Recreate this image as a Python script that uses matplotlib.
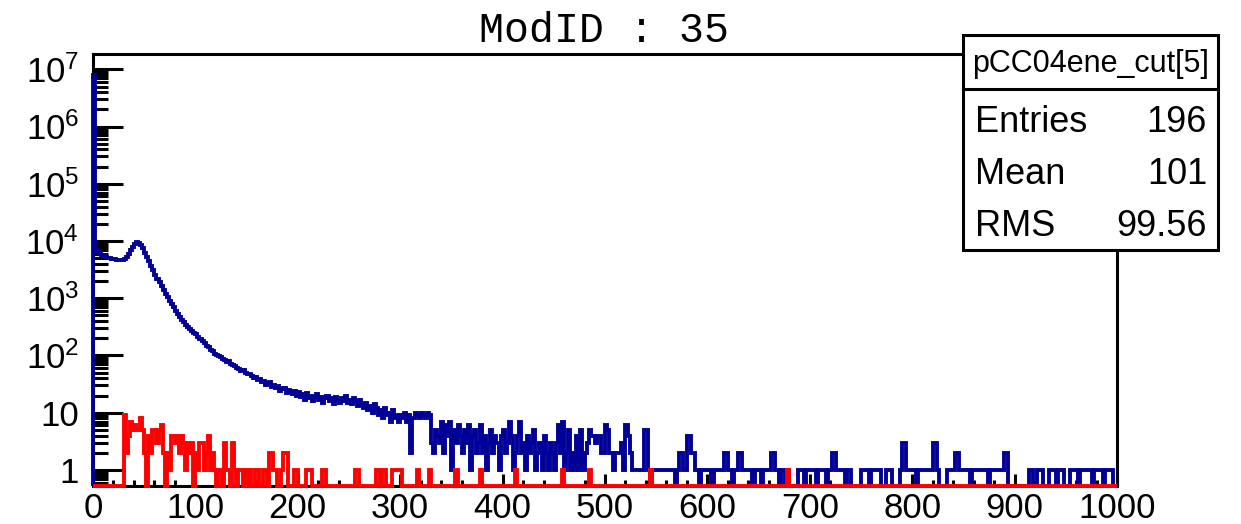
import numpy as np
import matplotlib
matplotlib.use("Agg")
from matplotlib import pyplot as plt
from matplotlib.patches import Rectangle
from matplotlib.lines import Line2D
from matplotlib.ticker import FixedLocator, FixedFormatter, LogLocator, MultipleLocator, NullFormatter

plt.rcParams["font.family"] = ["Liberation Sans", "DejaVu Sans"]
plt.rcParams["mathtext.default"] = "regular"

# histogram binning: 500 bins of width 2 over 0..1000
bin_width = 2
x_lo, x_hi = 0, 1000

# blue histogram (all entries), counts per bin
blue_0_120 = [
    8000000, 7000, 6500, 6100, 5800, 5500, 5300, 5100, 5000, 4900,
    4800, 4700, 4650, 4600, 4650, 4800, 5200, 5900, 6900, 8000,
    9000, 9500, 9300, 8600, 7500, 6300, 5200, 4400, 3700, 3100,
    2600, 2200, 1900, 1650, 1400, 1200, 1050, 900, 790, 690,
    600, 525, 478, 415, 385, 335, 315, 285, 272, 246,
    233, 212, 198, 176, 168, 147, 142, 127, 122, 108,
]
blue_120_200 = [
    104, 97, 93, 88, 84, 77, 79, 71, 69, 66,
    61, 59, 54, 56, 49, 47, 48, 43, 41, 42,
    37, 39, 34, 36, 31, 33, 35, 28, 30, 27,
    29, 24, 26, 27, 22, 25, 23, 21, 24, 20,
]
blue_200_300 = [
    23, 19, 21, 17, 22, 18, 20, 16, 19, 21,
    17, 19, 15, 18, 20, 16, 18, 14, 19, 17,
    15, 18, 16, 20, 15, 17, 14, 18, 16, 13,
    17, 14, 12, 15, 11, 13, 10, 14, 12, 9,
    11, 8, 12, 9, 10, 7, 11, 8, 9, 7,
]
blue_300_400 = [
    9, 8, 10, 7, 9, 2, 8, 10, 9, 8,
    10, 9, 8, 10, 9, 3, 2, 5, 4, 3,
    7, 2, 6, 4, 7, 1, 5, 3, 6, 4,
    2, 5, 3, 6, 1, 4, 5, 2, 3, 6,
    2, 4, 1, 3, 5, 2, 4, 3, 1, 4,
]
blue_400_500 = [
    5, 2, 3, 7, 4, 1, 2, 4, 7, 2,
    3, 1, 4, 2, 3, 5, 1, 2, 3, 1,
    4, 2, 1, 3, 2, 1, 3, 6, 2, 7,
    1, 2, 5, 1, 2, 1, 4, 1, 5, 1,
    2, 3, 5, 4, 4, 3, 4, 4, 2, 2,
]
blue_500_600 = [
    6, 5, 2, 2, 1, 2, 2, 2, 3, 1,
    6, 4, 2, 1, 1, 1, 1, 1, 1, 5,
    5, 1, 0, 1, 1, 1, 1, 1, 1, 1,
    1, 1, 1, 1, 0, 1, 2, 2, 1, 1,
    4, 4, 2, 2, 1, 1, 0, 1, 1, 1,
]
blue_600_700 = [
    1, 1, 0, 1, 1, 1, 1, 1, 2, 2,
    1, 1, 0, 1, 1, 2, 2, 1, 1, 1,
    1, 1, 0, 1, 1, 1, 0, 1, 1, 1,
    1, 2, 2, 1, 1, 0, 1, 1, 0, 1,
    0, 0, 0, 0, 1, 1, 1, 0, 1, 1,
]
blue_700_800 = [
    1, 1, 1, 0, 1, 1, 1, 1, 0, 1,
    1, 2, 2, 1, 1, 1, 1, 0, 1, 1,
    0, 0, 0, 0, 0, 1, 1, 1, 1, 0,
    1, 1, 1, 1, 1, 0, 0, 1, 1, 1,
    0, 0, 0, 0, 1, 3, 3, 1, 1, 1,
]
blue_800_900 = [
    1, 1, 0, 1, 1, 1, 1, 1, 1, 1,
    3, 3, 1, 0, 0, 0, 0, 1, 1, 1,
    1, 2, 2, 1, 1, 1, 1, 1, 0, 1,
    1, 1, 1, 1, 1, 1, 1, 0, 1, 1,
    1, 1, 1, 1, 1, 2, 2, 0, 0, 0,
]
blue_900_1000 = [
    0, 0, 0, 0, 0, 0, 0, 1, 1, 0,
    0, 1, 1, 1, 0, 0, 0, 1, 1, 1,
    0, 1, 1, 1, 0, 0, 0, 1, 1, 1,
    1, 0, 1, 1, 1, 1, 1, 1, 0, 1,
    1, 1, 1, 0, 1, 1, 1, 1, 0, 0,
]

# red histogram (pCC04ene_cut[5]): lower bin edges and counts of filled bins
red_bin_lo = [
    30, 32, 34, 36, 38, 40, 42, 44, 46, 48, 50, 54, 56, 58, 60, 62, 64, 66, 68,
    72, 74, 76, 78, 80, 82, 84, 86, 88, 90, 92, 94, 96, 100, 102, 104, 106, 108,
    110, 112, 114, 116, 118, 122, 124, 128, 130, 132, 136, 138, 142, 144, 148,
    152, 158, 160, 166, 168, 172, 174, 176, 178, 184, 186, 188, 196, 198,
    208, 210, 212, 224, 226, 256, 258, 276, 278, 282, 284, 292, 294, 296, 298,
    300, 316, 328, 354, 378, 412, 458, 484, 544, 678,
]
red_counts = [
    9, 2, 4, 7, 5, 6, 5, 5, 8, 5, 2, 4, 2, 5, 5, 3, 5, 6, 2,
    2, 1, 4, 4, 3, 4, 2, 4, 3, 1, 3, 2, 3, 2, 1, 3, 3, 1,
    2, 4, 1, 2, 1, 1, 1, 3, 1, 1, 3, 1, 1, 1, 1,
    1, 1, 1, 1, 1, 2, 2, 1, 1, 1, 2, 2, 1, 1,
    1, 1, 1, 1, 1, 1, 1, 1, 1, 1, 1, 1, 1, 1, 1,
    1, 1, 1, 1, 1, 1, 1, 1, 1, 1,
]

title_text = "ModID : 35"
stats_name = "pCC04ene_cut[5]"
stats_rows = [("Entries", "196"), ("Mean", "101"), ("RMS", "99.56")]

x_ticks = [0, 100, 200, 300, 400, 500, 600, 700, 800, 900, 1000]
y_ticks = [1, 10, 1e2, 1e3, 1e4, 1e5, 1e6, 1e7]
y_tick_labels = ["1", "10", "$10^{2}$", "$10^{3}$", "$10^{4}$", "$10^{5}$", "$10^{6}$", "$10^{7}$"]
y_lo, y_hi = 0.525, 1.85e7

blue = np.array(blue_0_120 + blue_120_200 + blue_200_300 + blue_300_400 + blue_400_500
                + blue_500_600 + blue_600_700 + blue_700_800 + blue_800_900 + blue_900_1000, dtype=float)
edges = np.arange(x_lo, x_hi + bin_width, bin_width)
red = np.zeros(len(edges) - 1)
red[(np.array(red_bin_lo) // bin_width).astype(int)] = red_counts

W, H = 1241, 524
fig = plt.figure(figsize=(W / 100, H / 100), dpi=100)
fig.set_facecolor("w")
ax = fig.add_axes([93 / W, 1 - 486 / H, 1024 / W, 432 / H])

# empty bins are drawn on the frame bottom, like ROOT does
ax.stairs(np.where(blue > 0, blue, y_lo), edges, baseline=y_lo, color="#000099", lw=2.8, zorder=3, clip_on=False)
ax.stairs(np.where(red > 0, red, y_lo), edges, baseline=y_lo, color="#ff0000", lw=2.8, zorder=3.1, clip_on=False)

ax.set_yscale("log")
ax.set_xlim(x_lo, x_hi)
ax.set_ylim(y_lo, y_hi)

ax.xaxis.set_major_locator(FixedLocator(x_ticks))
ax.xaxis.set_minor_locator(MultipleLocator(20))
ax.set_xticklabels([str(t) for t in x_ticks])
ax.yaxis.set_major_locator(FixedLocator(y_ticks))
ax.yaxis.set_major_formatter(FixedFormatter(y_tick_labels))
ax.yaxis.set_minor_locator(LogLocator(base=10, subs=np.arange(2, 10), numticks=30))
ax.yaxis.set_minor_formatter(NullFormatter())

ax.tick_params(axis="both", which="both", direction="in", width=2.2, colors="k", labelsize=25,
               top=False, right=False)
ax.tick_params(axis="y", which="major", length=21.6, pad=10)
ax.tick_params(axis="y", which="minor", length=10.8)
ax.tick_params(axis="x", which="major", length=8.6, pad=4)
ax.tick_params(axis="x", which="minor", length=4.3)
for s in ax.spines.values():
    s.set_linewidth(2.2)

fig.text(604 / W, 1 - 42 / H, title_text, ha="center", va="baseline",
         family=["Liberation Mono", "DejaVu Sans Mono"], fontsize=30)

# stats box
bx0, bx1, by0, by1, bsep = 963, 1218, 35, 250, 89
fig.add_artist(Rectangle((bx0 / W, 1 - by1 / H), (bx1 - bx0) / W, (by1 - by0) / H,
                         transform=fig.transFigure, facecolor="w", edgecolor="k", lw=2.2, zorder=5))
fig.add_artist(Line2D([bx0 / W, bx1 / W], [1 - bsep / H, 1 - bsep / H],
                      transform=fig.transFigure, color="k", lw=2.2, zorder=6))
fig.text((bx0 + bx1) / 2 / W, 1 - 72 / H, stats_name, ha="center", va="baseline", fontsize=22, zorder=7)
for i, (name, val) in enumerate(stats_rows):
    yb = 1 - (132 + 52 * i) / H
    fig.text(975 / W, yb, name, ha="left", va="baseline", fontsize=26, zorder=7)
    fig.text(1207 / W, yb, val, ha="right", va="baseline", fontsize=26, zorder=7)

fig.savefig("out.png", dpi=100)
plt.close(fig)
